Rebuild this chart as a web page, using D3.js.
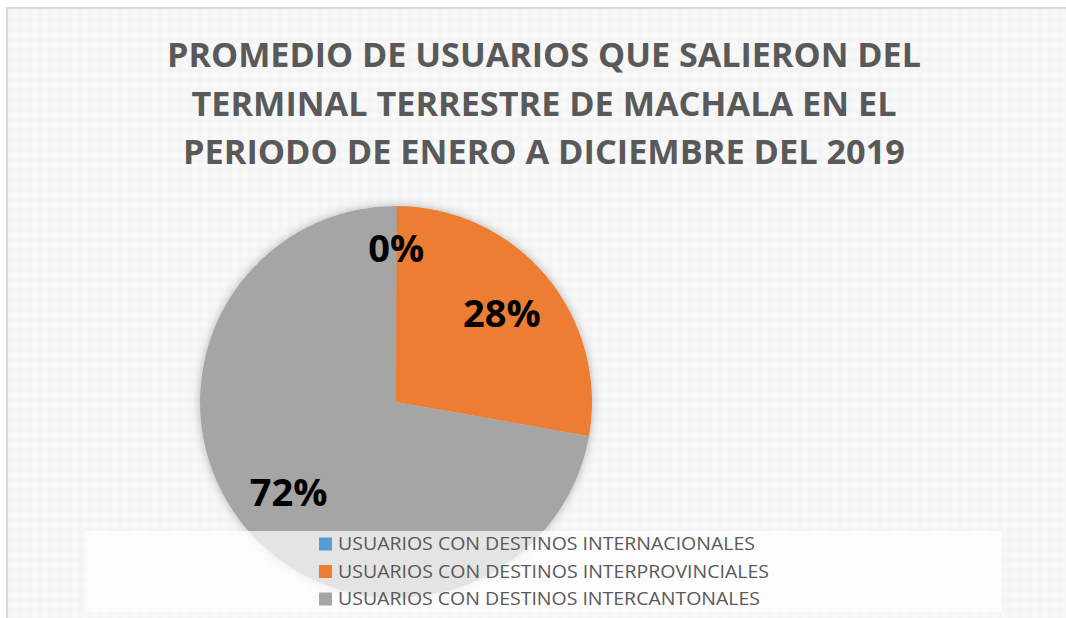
<!DOCTYPE html>
<html>
<head>
  <meta charset="utf-8">
  <script src="https://cdn.jsdelivr.net/npm/d3@7"></script>
  <style>
    body { margin: 0; background: #ffffff; }
    svg { display: block; }
  </style>
</head>
<body>
  <svg width="1066" height="618"></svg>
  <script>
    // data
    var categories = [
      "USUARIOS CON DESTINOS INTERNACIONALES",
      "USUARIOS CON DESTINOS INTERPROVINCIALES",
      "USUARIOS CON DESTINOS INTERCANTONALES"
    ];
    var shares = [0.05, 27.75, 72.2];
    var labels = ["0%", "28%", "72%"];
    var colours = ["#5b9bd5", "#ed7d31", "#a5a5a5"];
    var titleLines = [
      "PROMEDIO DE USUARIOS QUE SALIERON DEL",
      "TERMINAL TERRESTRE DE MACHALA EN EL",
      "PERIODO DE ENERO A DICIEMBRE DEL 2019"
    ];

    var svg = d3.select("svg"),
      width = +svg.attr("width"),
      height = +svg.attr("height");

    var defs = svg.append("defs");

    // faint textured background like the office chart style
    var pat = defs.append("pattern")
      .attr("id", "bgpat")
      .attr("width", 10).attr("height", 10)
      .attr("patternUnits", "userSpaceOnUse");
    pat.append("rect").attr("width", 10).attr("height", 10).attr("fill", "#f4f4f4");
    pat.append("path").attr("d", "M5,0 L10,5 L5,10 L0,5 Z").attr("fill", "#f8f8f8");

    var shadow = defs.append("filter")
      .attr("id", "shadow")
      .attr("x", "-20%").attr("y", "-20%")
      .attr("width", "140%").attr("height", "140%");
    shadow.append("feDropShadow")
      .attr("dx", 0).attr("dy", 0)
      .attr("stdDeviation", 5)
      .attr("flood-color", "#000")
      .attr("flood-opacity", 0.28);

    // chart frame
    svg.append("rect")
      .attr("x", 7).attr("y", 8)
      .attr("width", width + 20).attr("height", height + 20)
      .attr("fill", "url(#bgpat)")
      .attr("stroke", "#d9d9d9")
      .attr("stroke-width", 2);

    // title
    var titleWidths = [754, 705, 722];
    svg.append("g")
      .selectAll("text")
      .data(titleLines)
      .enter()
      .append("text")
      .attr("x", 544)
      .attr("y", function(d, i) { return 67 + i * 48.5; })
      .attr("text-anchor", "middle")
      .attr("font-family", "'Open Sans', sans-serif")
      .attr("font-weight", "bold")
      .attr("font-size", "34px")
      .attr("fill", "#595959")
      .attr("textLength", function(d, i) { return titleWidths[i]; })
      .attr("lengthAdjust", "spacingAndGlyphs")
      .text(function(d) { return d; });

    // pie
    var cx = 396, cy = 402, radius = 196;

    var pie = d3.pie().sort(null).value(function(d) { return d; });
    var arcs = pie(shares);

    var arc = d3.arc().innerRadius(0).outerRadius(radius);

    var g = svg.append("g")
      .attr("transform", "translate(" + cx + "," + cy + ")");

    g.append("g")
      .attr("filter", "url(#shadow)")
      .selectAll("path")
      .data(arcs)
      .enter()
      .append("path")
      .attr("d", arc)
      .attr("fill", function(d, i) { return colours[i]; });

    // data labels, placed like excel best fit
    var labelRadius = [154, 138, 140];
    g.selectAll("text.lbl")
      .data(arcs)
      .enter()
      .append("text")
      .attr("class", "lbl")
      .attr("transform", function(d, i) {
        var r = labelRadius[i];
        var c = d3.arc().innerRadius(r).outerRadius(r).centroid(d);
        return "translate(" + c[0] + "," + c[1] + ")";
      })
      .attr("text-anchor", "middle")
      .attr("dy", "0.36em")
      .attr("font-family", "'Open Sans', sans-serif")
      .attr("font-weight", "bold")
      .attr("font-size", "38px")
      .attr("fill", "#000")
      .text(function(d, i) { return labels[i]; });

    // legend box laid over the bottom of the pie
    svg.append("rect")
      .attr("x", 85).attr("y", 531)
      .attr("width", 917).attr("height", 81)
      .attr("fill", "#ffffff")
      .attr("fill-opacity", 0.7);

    var legend = svg.append("g")
      .attr("transform", "translate(319,544)");

    var item = legend.selectAll("g")
      .data(categories)
      .enter()
      .append("g")
      .attr("transform", function(d, i) { return "translate(0," + (i * 27.5) + ")"; });

    item.append("rect")
      .attr("x", 0).attr("y", -6.5)
      .attr("width", 13).attr("height", 13)
      .attr("fill", function(d, i) { return colours[i]; });

    var legendWidths = [417, 431, 422];
    item.append("text")
      .attr("x", 19)
      .attr("dy", "0.36em")
      .attr("font-family", "'Open Sans', sans-serif")
      .attr("font-size", "18px")
      .attr("fill", "#595959")
      .attr("textLength", function(d, i) { return legendWidths[i]; })
      .attr("lengthAdjust", "spacingAndGlyphs")
      .text(function(d) { return d; });
  </script>
</body>
</html>
